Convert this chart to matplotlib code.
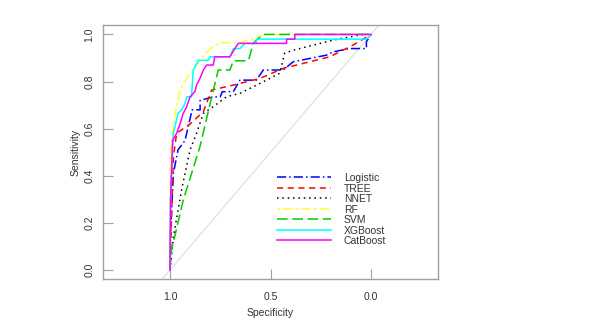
import numpy as np
import matplotlib
matplotlib.use("Agg")
import matplotlib.pyplot as plt

plt.rcParams["font.family"] = ["Liberation Sans", "DejaVu Sans"]

# ROC points: (specificity, sensitivity)
logistic_spec = [1.0, 0.997, 0.983, 0.96, 0.925, 0.89, 0.85, 0.85, 0.785, 0.75, 0.74, 0.685, 0.652, 0.57, 0.536, 0.437, 0.387, 0.222, 0.189, 0.106, 0.023, 0.023, 0.0]
logistic_sens = [0.0, 0.156, 0.41, 0.51, 0.55, 0.68, 0.68, 0.72, 0.735, 0.735, 0.757, 0.757, 0.806, 0.806, 0.849, 0.849, 0.884, 0.912, 0.926, 0.94, 0.94, 0.969, 1.0]

tree_spec = [1.0, 0.992, 0.983, 0.967, 0.9, 0.834, 0.793, 0.685, 0.553, 0.437, 0.205, 0.089, 0.0]
tree_sens = [0.0, 0.24, 0.48, 0.58, 0.62, 0.672, 0.764, 0.785, 0.813, 0.856, 0.905, 0.955, 1.0]

nnet_spec = [1.0, 0.983, 0.94, 0.9, 0.868, 0.834, 0.785, 0.72, 0.652, 0.52, 0.454, 0.43, 0.387, 0.189, 0.04, 0.0]
nnet_sens = [0.0, 0.14, 0.35, 0.51, 0.58, 0.665, 0.693, 0.735, 0.75, 0.806, 0.835, 0.92, 0.933, 0.976, 1.0, 1.0]

rf_spec = [1.0, 0.997, 0.975, 0.95, 0.917, 0.884, 0.851, 0.8, 0.75, 0.652, 0.586, 0.52, 0.0]
rf_sens = [0.0, 0.51, 0.665, 0.764, 0.813, 0.849, 0.89, 0.94, 0.965, 0.965, 0.983, 1.0, 1.0]

svm_spec = [1.0, 0.992, 0.934, 0.851, 0.8, 0.76, 0.702, 0.685, 0.61, 0.586, 0.57, 0.536, 0.0]
svm_sens = [0.0, 0.085, 0.297, 0.523, 0.707, 0.849, 0.849, 0.888, 0.888, 0.962, 0.976, 1.0, 1.0]

xgb_spec = [1.0, 0.997, 0.983, 0.96, 0.942, 0.925, 0.917, 0.893, 0.884, 0.859, 0.81, 0.8, 0.702, 0.685, 0.652, 0.627, 0.57, 0.57, 0.023, 0.0]
xgb_sens = [0.0, 0.3, 0.58, 0.665, 0.68, 0.707, 0.735, 0.735, 0.849, 0.89, 0.89, 0.905, 0.905, 0.94, 0.94, 0.962, 0.962, 0.98, 0.98, 1.0]

cat_spec = [1.0, 0.997, 0.987, 0.967, 0.95, 0.934, 0.917, 0.9, 0.876, 0.868, 0.851, 0.834, 0.818, 0.785, 0.777, 0.702, 0.677, 0.66, 0.42, 0.42, 0.379, 0.379, 0.0]
cat_sens = [0.0, 0.3, 0.55, 0.58, 0.62, 0.665, 0.693, 0.735, 0.757, 0.785, 0.813, 0.849, 0.87, 0.87, 0.905, 0.905, 0.94, 0.962, 0.962, 0.98, 0.98, 1.0, 1.0]

labels = ["Logistic", "TREE", "NNET", "RF", "SVM", "XGBoost", "CatBoost"]
colors = ["#0000ff", "#ff0000", "#000000", "#ffff33", "#00cd00", "#00ffff", "#ff00ff"]
styles = [(0, (6, 2, 1, 2)), (0, (4, 3)), (0, (1, 2.5)), (0, (2, 2, 6, 2)), (0, (7, 3)), "-", "-"]

curves = [(logistic_spec, logistic_sens), (tree_spec, tree_sens), (nnet_spec, nnet_sens),
          (rf_spec, rf_sens), (svm_spec, svm_sens), (xgb_spec, xgb_sens), (cat_spec, cat_sens)]

fig = plt.figure(figsize=(6.09, 3.30), dpi=100)
ax = fig.add_axes([103 / 609, 1 - 279 / 330, 335 / 609, 254 / 330])

ax.plot([2, -1], [-1, 2], color="#dddddd", lw=0.8, zorder=1)
for (sx, sy), c, ls, lab in zip(curves, colors, styles, labels):
    ax.plot(sx, sy, color=c, ls=ls, lw=1.1, label=lab)

ax.set_xlim(1.333, -0.333)
ax.set_ylim(-0.038, 1.04)
ax.set_xticks([1.0, 0.5, 0.0])
ax.set_xticklabels(["1.0", "0.5", "0.0"])
ax.set_yticks([0.0, 0.2, 0.4, 0.6, 0.8, 1.0])
ax.set_yticklabels(["0.0", "0.2", "0.4", "0.6", "0.8", "1.0"], rotation=90, va="center")
ax.tick_params(direction="in", length=7, width=0.8, color="#a0a0a0", labelsize=7.5,
               labelcolor="#333333")
ax.tick_params(axis="x", pad=9)
ax.tick_params(axis="y", pad=6)
for s in ax.spines.values():
    s.set_color("#a0a0a0")
    s.set_linewidth(1.0)

ax.set_xlabel("Specificity", fontsize=7.5, color="#333333", labelpad=5)
ax.set_ylabel("Sensitivity", fontsize=7.5, color="#333333", labelpad=3)

leg = ax.legend(loc="upper left", bbox_to_anchor=(277 / 609, 1 - 173 / 330),
                bbox_transform=fig.transFigure, frameon=False, fontsize=7.5,
                handlelength=5.2, handletextpad=1.2, labelspacing=0.05,
                borderpad=0, borderaxespad=0)
for t in leg.get_texts():
    t.set_color("#333333")

fig.savefig("out.png", dpi=100)
